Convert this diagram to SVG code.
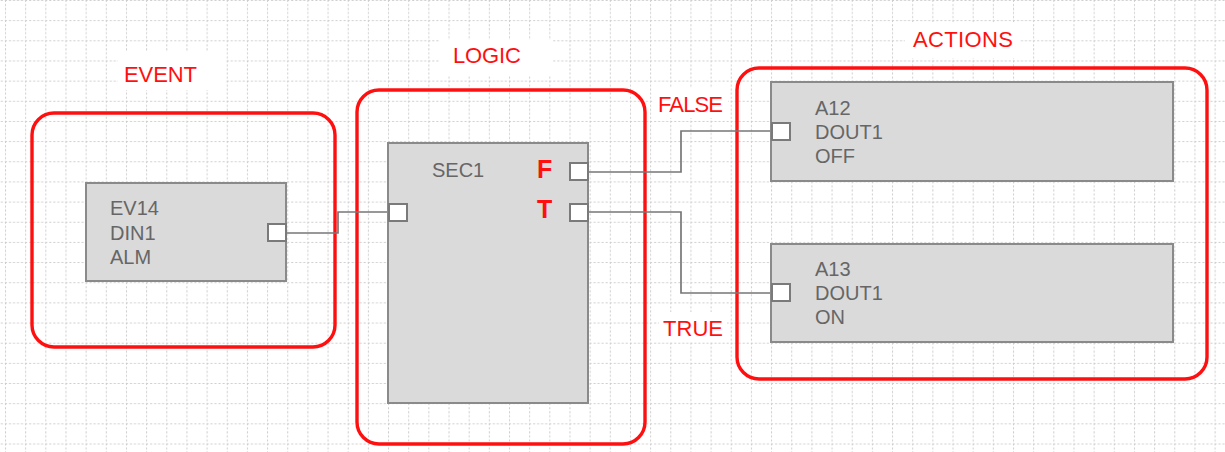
<svg xmlns="http://www.w3.org/2000/svg" width="1225" height="452" viewBox="0 0 1225 452">
<style>
.grp{fill:none;stroke:#ff1010;stroke-width:3.4}
.node{fill:#dadada;stroke:#8a8a8a;stroke-width:2}
.port{fill:#ffffff;stroke:#7a7a7a;stroke-width:2}
.ntxt{font-family:"Liberation Sans",Arial,sans-serif;font-size:20px;fill:#666666}
.lbl{font-family:"Liberation Sans",Arial,sans-serif;font-size:22px;fill:#ff1010}
.ft{font-family:"Liberation Sans",Arial,sans-serif;font-size:25px;font-weight:bold;fill:#ff1010}
.wire{fill:none;stroke:#777777;stroke-width:1.7}
.bg{fill:#ffffff}
</style>
<defs>
<pattern id="grid" x="5" y="0" width="20.16" height="20.16" patternUnits="userSpaceOnUse">
<path d="M0 0.5 H20.16 M0.5 0 V20.16" stroke="#cccccc" stroke-width="1" stroke-dasharray="2 2" fill="none"/>
</pattern>
</defs>
<rect x="0" y="0" width="1225" height="452" fill="#ffffff"/>
<rect x="0" y="0" width="1225" height="452" fill="url(#grid)"/>

<g id="label-event">
<rect class="bg" x="118" y="52" width="107" height="38"/>
<text class="lbl" x="124" y="82" textLength="73">EVENT</text>
</g>
<g id="label-logic">
<rect class="bg" x="440" y="40" width="113" height="36"/>
<text class="lbl" x="453" y="63" textLength="68">LOGIC</text>
</g>
<g id="label-actions">
<rect class="bg" x="905" y="22" width="115" height="36"/>
<text class="lbl" x="913" y="47" textLength="100">ACTIONS</text>
</g>
<g id="label-false">
<rect class="bg" x="654" y="88" width="74" height="30"/>
<text class="lbl" x="658" y="112" textLength="65">FALSE</text>
</g>
<g id="label-true">
<rect class="bg" x="659" y="312" width="68" height="30"/>
<text class="lbl" x="663" y="336" textLength="60">TRUE</text>
</g>

<g id="group-event"><rect class="grp" x="32" y="113" width="303" height="234" rx="22"/></g>
<g id="group-logic"><rect class="grp" x="357" y="90" width="288" height="354" rx="22"/></g>
<g id="group-actions"><rect class="grp" x="737" y="68" width="470" height="311" rx="22"/></g>

<g id="connectors">
<path class="wire" d="M286 233 H338 V212 H389"/>
<path class="wire" d="M588 172 H681 V131 H772"/>
<path class="wire" d="M588 212 H681 V293 H772"/>
</g>

<g id="EV14">
<rect class="node" x="86" y="183" width="200" height="98"/>
<rect class="port" x="268" y="224" width="18" height="17"/>
<text class="ntxt" x="110" y="215">EV14</text>
<text class="ntxt" x="110" y="240">DIN1</text>
<text class="ntxt" x="110" y="264">ALM</text>
</g>

<g id="SEC1">
<rect class="node" x="388" y="143" width="200" height="260"/>
<rect class="port" x="389" y="204" width="18" height="17"/>
<rect class="port" x="570" y="163" width="18" height="17"/>
<rect class="port" x="570" y="204" width="18" height="17"/>
<text class="ntxt" x="432" y="177">SEC1</text>
<text class="ft" x="537" y="178">F</text>
<text class="ft" x="537" y="218">T</text>
</g>

<g id="A12">
<rect class="node" x="771" y="82" width="402" height="99"/>
<rect class="port" x="772" y="123" width="18" height="17"/>
<text class="ntxt" x="815" y="115">A12</text>
<text class="ntxt" x="815" y="139">DOUT1</text>
<text class="ntxt" x="815" y="163">OFF</text>
</g>

<g id="A13">
<rect class="node" x="771" y="244" width="402" height="98"/>
<rect class="port" x="772" y="284" width="18" height="17"/>
<text class="ntxt" x="815" y="276">A13</text>
<text class="ntxt" x="815" y="300">DOUT1</text>
<text class="ntxt" x="815" y="324">ON</text>
</g>
</svg>
